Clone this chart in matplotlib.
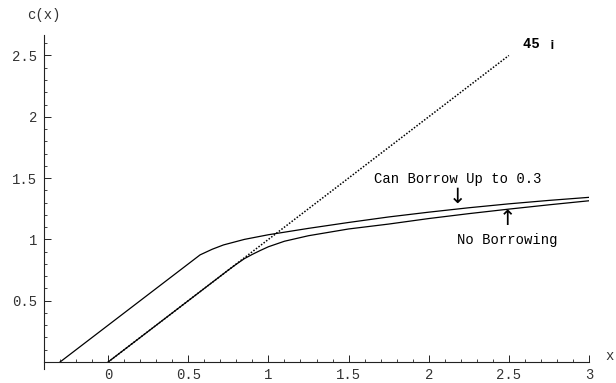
import matplotlib
matplotlib.use("Agg")
import matplotlib.pyplot as plt
from matplotlib.ticker import MultipleLocator

plt.rcParams.update({
    "font.family": ["Liberation Mono", "DejaVu Sans Mono"],
    "font.size": 10,
})

# consumption function, can borrow up to 0.3
borrow_x = [-0.3, 0.574, 0.65, 0.72, 0.85, 1.0, 1.25, 1.5, 1.75, 2.0, 2.25, 2.5, 2.75, 3.0]
borrow_y = [0.0, 0.874, 0.92, 0.955, 1.0, 1.038, 1.09, 1.138, 1.183, 1.222, 1.258, 1.29, 1.318, 1.343]

# consumption function, no borrowing
noborrow_x = [0.0, 0.75, 0.8, 0.85, 0.9, 0.95, 1.0, 1.1, 1.25, 1.5, 1.75, 2.0, 2.25, 2.5, 2.75, 3.0]
noborrow_y = [0.0, 0.75, 0.798, 0.843, 0.878, 0.91, 0.94, 0.985, 1.03, 1.085, 1.125, 1.17, 1.21, 1.247, 1.282, 1.315]

# 45 degree line
diag_x = [0.0, 2.5]
diag_y = [0.0, 2.5]

xticks = [0, 0.5, 1, 1.5, 2, 2.5, 3]
xtick_labels = ["0", "0.5", "1", "1.5", "2", "2.5", "3"]
yticks = [0.5, 1, 1.5, 2, 2.5]
ytick_labels = ["0.5", "1", "1.5", "2", "2.5"]

fig = plt.figure(figsize=(6.16, 3.83), dpi=100)
ax = fig.add_axes([44 / 616, (383 - 369) / 383, (589 - 44) / 616, (369 - 35) / 383])

ax.plot(borrow_x, borrow_y, color="black", lw=0.9)
ax.plot(noborrow_x, noborrow_y, color="black", lw=0.9)
ax.plot(diag_x, diag_y, color="black", lw=1.1, linestyle=(0, (1, 1.1)))

ax.set_xlim(-0.4, 3.0)
ax.set_ylim(-0.057, 2.667)

# mathematica style axes
ax.spines["top"].set_visible(False)
ax.spines["right"].set_visible(False)
ax.spines["bottom"].set_position(("data", 0))
for s in ["left", "bottom"]:
    ax.spines[s].set_linewidth(0.8)
    ax.spines[s].set_color("#222222")

ax.set_xticks(xticks)
ax.set_xticklabels(xtick_labels)
ax.set_yticks(yticks)
ax.set_yticklabels(ytick_labels)
ax.xaxis.set_minor_locator(MultipleLocator(0.1))
ax.yaxis.set_minor_locator(MultipleLocator(0.1))
ax.tick_params(which="major", direction="in", length=5, width=0.7, colors="#222222",
               labelcolor="#333333", labelsize=10)
ax.tick_params(axis="x", which="major", pad=4)
ax.tick_params(axis="y", which="major", pad=5)
ax.tick_params(which="minor", direction="in", length=2.5, width=0.6, colors="#222222")

ax.text(3.13, 0.05, "x", ha="center", va="center", color="#333333", clip_on=False)
ax.text(-0.4, 2.83, "c(x)", ha="center", va="center", color="#333333", clip_on=False)

ax.text(2.69, 2.59, "45 ¡", ha="center", va="center", fontweight="bold")
ax.text(2.18, 1.49, "Can Borrow Up to 0.3", ha="center", va="center")
ax.text(2.18, 1.345, "↓", ha="center", va="center", fontsize=15, family="DejaVu Sans")
ax.text(2.49, 1.17, "↑", ha="center", va="center", fontsize=15, family="DejaVu Sans")
ax.text(2.49, 0.995, "No Borrowing", ha="center", va="center")

fig.savefig("out.png", dpi=100)
